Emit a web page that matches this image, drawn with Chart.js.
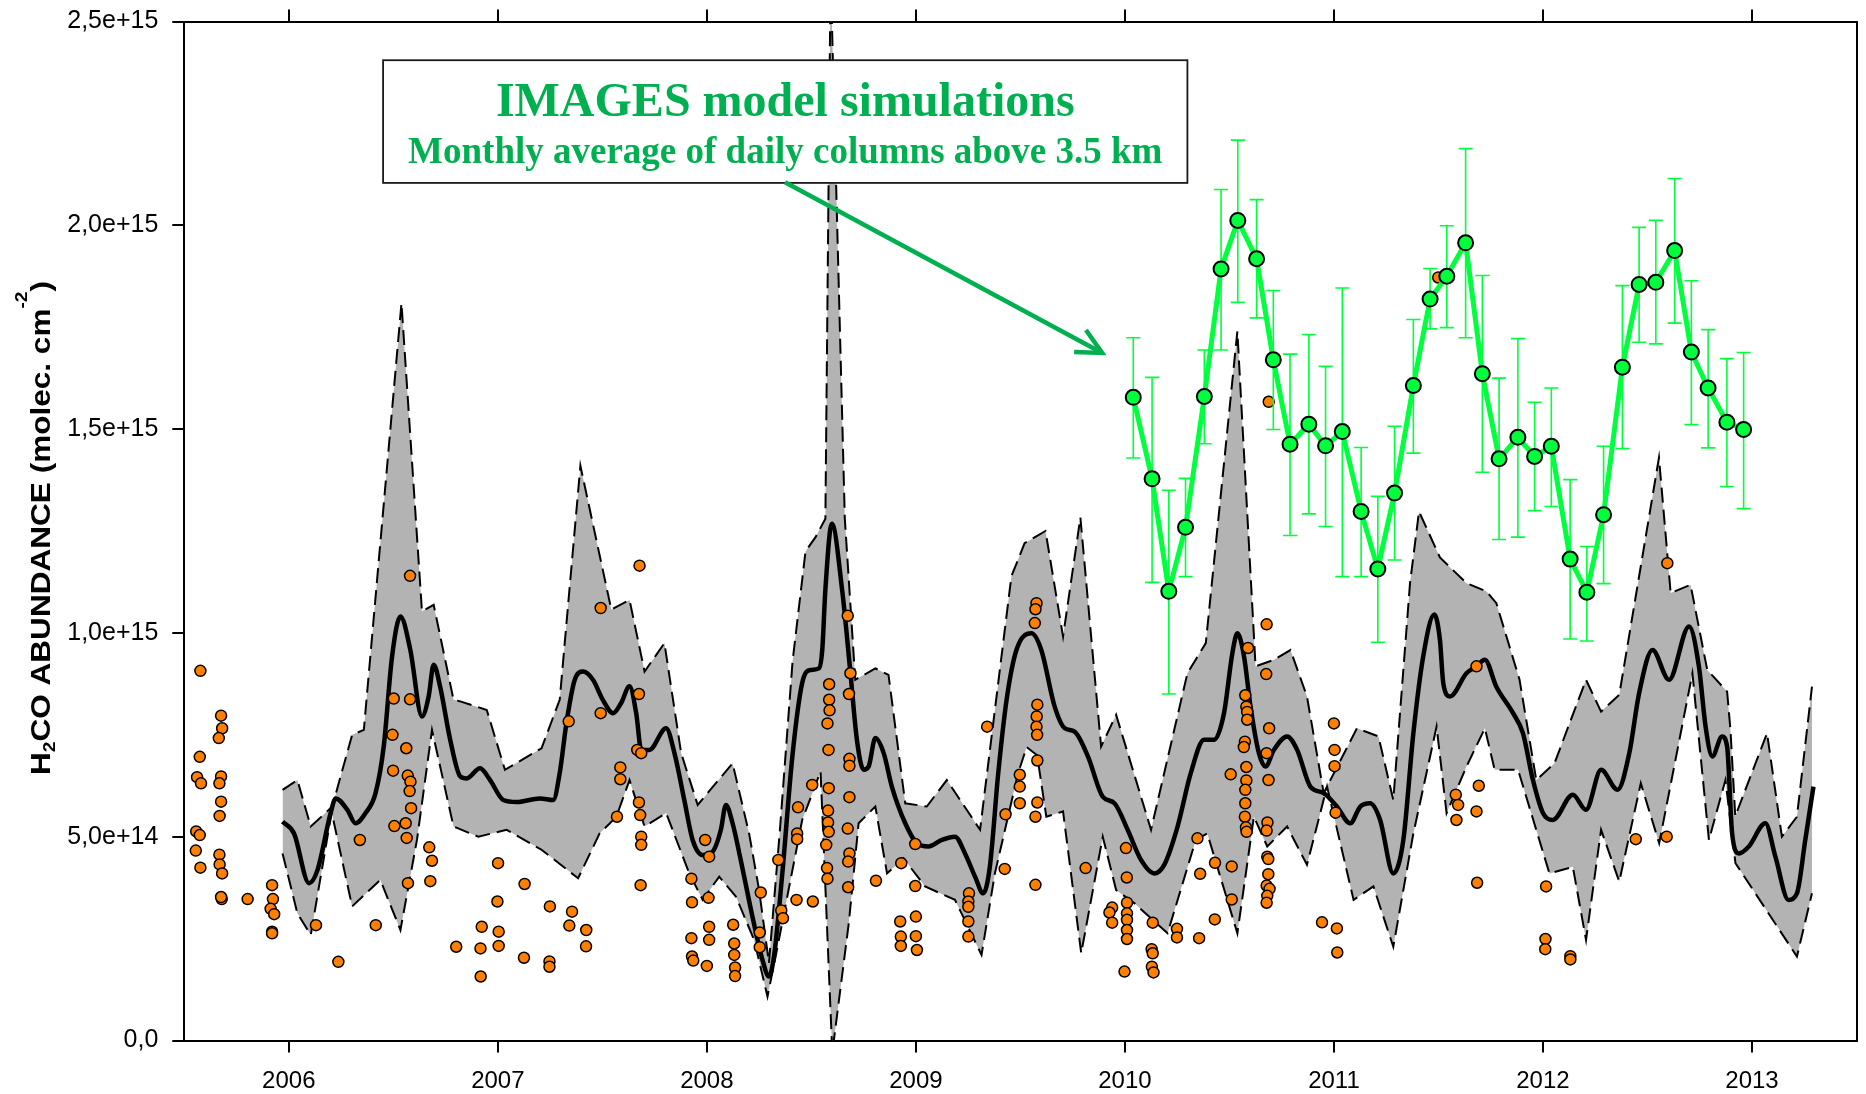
<!DOCTYPE html>
<html>
<head>
<meta charset="utf-8">
<title>H2CO abundance time series</title>
<script src="https://cdn.jsdelivr.net/npm/chart.js@4.4.1/dist/chart.umd.min.js"></script>
<style>
  html, body { margin: 0; padding: 0; background: #ffffff; }
  canvas { display: block; }
</style>
</head>
<body>
<canvas id="chart" width="1866" height="1094"></canvas>
<script>
// Values are H2CO columns in units of 1e15 molec. cm-2, x in decimal years.

const X_TICKS = [2006, 2007, 2008, 2009, 2010, 2011, 2012, 2013];
const Y_TICKS = [0, 0.5, 1.0, 1.5, 2.0, 2.5];
const Y_TICK_LABELS = ['0,0', '5,0e+14', '1,0e+15', '1,5e+15', '2,0e+15', '2,5e+15'];

// Individual observations (orange dots)
const OBS_YEARS = [
  2005.577, 2005.676, 2005.681, 2005.665, 2005.574, 2005.561, 2005.580, 2005.676, 2005.668, 2005.676,
  2005.669, 2005.557, 2005.574, 2005.555, 2005.577, 2005.668, 2005.669, 2005.681, 2005.679, 2005.676,
  2005.803, 2005.920, 2005.924, 2005.913, 2005.930, 2005.920, 2005.920, 2006.130, 2006.237, 2006.340,
  2006.416, 2006.502, 2006.580, 2006.580, 2006.496, 2006.562, 2006.499, 2006.569, 2006.582, 2006.578,
  2006.585, 2006.505, 2006.559, 2006.564, 2006.570, 2006.672, 2006.685, 2006.677, 2007.001, 2006.998,
  2006.923, 2007.004, 2006.801, 2006.917, 2007.004, 2006.918, 2007.128, 2007.125, 2007.249, 2007.247,
  2007.247, 2007.355, 2007.342, 2007.423, 2007.422, 2007.339, 2007.492, 2007.492, 2007.678, 2007.675,
  2007.667, 2007.686, 2007.586, 2007.586, 2007.570, 2007.675, 2007.681, 2007.686, 2007.686, 2007.683,
  2007.992, 2008.011, 2007.926, 2007.929, 2008.008, 2007.926, 2007.929, 2007.935, 2008.000, 2008.011,
  2008.011, 2008.126, 2008.131, 2008.131, 2008.135, 2008.135, 2008.258, 2008.253, 2008.253, 2008.342,
  2008.356, 2008.364, 2008.429, 2008.507, 2008.436, 2008.432, 2008.432, 2008.504, 2008.585, 2008.585,
  2008.587, 2008.577, 2008.582, 2008.583, 2008.580, 2008.580, 2008.583, 2008.571, 2008.575, 2008.577,
  2008.674, 2008.687, 2008.680, 2008.682, 2008.682, 2008.682, 2008.674, 2008.682, 2008.676, 2008.676,
  2008.809, 2008.925, 2008.928, 2008.928, 2009.000, 2009.000, 2009.005, 2008.997, 2008.997, 2008.930,
  2009.254, 2009.251, 2009.251, 2009.251, 2009.251, 2009.341, 2009.429, 2009.425, 2009.497, 2009.497,
  2009.497, 2009.577, 2009.572, 2009.569, 2009.581, 2009.578, 2009.577, 2009.580, 2009.581, 2009.581,
  2009.572, 2009.572, 2009.812, 2010.005, 2010.009, 2009.939, 2009.926, 2009.939, 2010.010, 2010.010,
  2010.010, 2010.010, 2010.010, 2009.998, 2010.133, 2010.128, 2010.133, 2010.129, 2010.137, 2010.249,
  2010.249, 2010.355, 2010.347, 2010.360, 2010.431, 2010.430, 2010.511, 2010.511, 2010.506, 2010.589,
  2010.678, 2010.676, 2010.576, 2010.581, 2010.585, 2010.585, 2010.574, 2010.569, 2010.581, 2010.581,
  2010.576, 2010.576, 2010.574, 2010.579, 2010.582, 2010.690, 2010.678, 2010.687, 2010.682, 2010.678,
  2010.681, 2010.686, 2010.686, 2010.678, 2010.692, 2010.681, 2010.678, 2011.000, 2011.003, 2011.003,
  2011.008, 2010.943, 2011.014, 2011.016, 2010.688, 2011.499, 2012.595, 2011.682, 2011.583, 2011.594,
  2011.693, 2011.682, 2011.586, 2011.685, 2012.015, 2012.012, 2012.011, 2012.131, 2012.131, 2012.444,
  2012.592
];
const OBS_VALUES = [
  0.907, 0.797, 0.766, 0.742, 0.696, 0.646, 0.631, 0.648, 0.631, 0.586,
  0.551, 0.513, 0.504, 0.466, 0.424, 0.456, 0.432, 0.410, 0.347, 0.352,
  0.347, 0.381, 0.347, 0.323, 0.310, 0.267, 0.263, 0.283, 0.193, 0.492,
  0.283, 0.839, 0.837, 1.140, 0.750, 0.717, 0.662, 0.650, 0.635, 0.612,
  0.570, 0.526, 0.533, 0.497, 0.386, 0.474, 0.441, 0.391, 0.435, 0.341,
  0.279, 0.267, 0.230, 0.226, 0.232, 0.157, 0.384, 0.203, 0.329, 0.194,
  0.181, 0.316, 0.282, 0.271, 0.231, 0.783, 1.061, 0.803, 1.165, 0.850,
  0.713, 0.705, 0.670, 0.641, 0.549, 0.584, 0.553, 0.500, 0.480, 0.381,
  0.492, 0.451, 0.397, 0.339, 0.350, 0.251, 0.206, 0.196, 0.183, 0.279,
  0.247, 0.284, 0.238, 0.210, 0.179, 0.158, 0.363, 0.265, 0.229, 0.443,
  0.319, 0.300, 0.345, 0.341, 0.572, 0.508, 0.494, 0.627, 0.874, 0.836,
  0.810, 0.778, 0.713, 0.619, 0.564, 0.535, 0.512, 0.480, 0.423, 0.397,
  1.042, 0.901, 0.850, 0.691, 0.674, 0.597, 0.520, 0.459, 0.439, 0.376,
  0.392, 0.292, 0.255, 0.232, 0.304, 0.256, 0.222, 0.482, 0.379, 0.435,
  0.361, 0.341, 0.328, 0.292, 0.255, 0.770, 0.555, 0.421, 0.652, 0.623,
  0.582, 1.073, 1.058, 1.024, 0.824, 0.795, 0.770, 0.750, 0.687, 0.584,
  0.549, 0.382, 0.423, 0.472, 0.400, 0.326, 0.314, 0.289, 0.338, 0.312,
  0.296, 0.271, 0.249, 0.169, 0.289, 0.224, 0.214, 0.181, 0.167, 0.274,
  0.253, 0.251, 0.496, 0.409, 0.436, 0.297, 0.427, 0.346, 0.653, 0.963,
  1.021, 0.899, 0.847, 0.819, 0.806, 0.787, 0.733, 0.720, 0.671, 0.638,
  0.615, 0.582, 0.549, 0.523, 0.512, 0.766, 0.705, 0.639, 0.535, 0.515,
  0.451, 0.445, 0.408, 0.380, 0.372, 0.355, 0.338, 0.778, 0.713, 0.673,
  0.559, 0.290, 0.275, 0.216, 1.567, 1.872, 1.171, 0.918, 0.603, 0.578,
  0.625, 0.562, 0.541, 0.387, 0.378, 0.249, 0.224, 0.207, 0.199, 0.494,
  0.500
];

// Smoothed observation curve (thick black line)
const MEAN_YEARS = [
  2005.970, 2006.025, 2006.097, 2006.137, 2006.200, 2006.224, 2006.280, 2006.319, 2006.367, 2006.415,
  2006.454, 2006.494, 2006.534, 2006.581, 2006.637, 2006.669, 2006.693, 2006.724, 2006.772, 2006.820,
  2006.851, 2006.915, 2006.963, 2007.026, 2007.090, 2007.201, 2007.265, 2007.296, 2007.328, 2007.368,
  2007.408, 2007.455, 2007.503, 2007.551, 2007.590, 2007.630, 2007.662, 2007.686, 2007.725, 2007.805,
  2007.845, 2007.892, 2007.932, 2007.980, 2008.027, 2008.067, 2008.091, 2008.123, 2008.162, 2008.218,
  2008.266, 2008.297, 2008.321, 2008.361, 2008.409, 2008.456, 2008.496, 2008.536, 2008.552, 2008.567,
  2008.598, 2008.647, 2008.687, 2008.718, 2008.750, 2008.774, 2008.806, 2008.846, 2008.885, 2008.949,
  2009.005, 2009.060, 2009.124, 2009.187, 2009.235, 2009.283, 2009.322, 2009.354, 2009.394, 2009.434,
  2009.481, 2009.553, 2009.600, 2009.664, 2009.712, 2009.759, 2009.823, 2009.894, 2009.950, 2010.013,
  2010.077, 2010.140, 2010.188, 2010.252, 2010.315, 2010.379, 2010.427, 2010.474, 2010.514, 2010.538,
  2010.570, 2010.601, 2010.641, 2010.673, 2010.713, 2010.776, 2010.824, 2010.887, 2010.951, 2011.014,
  2011.078, 2011.126, 2011.173, 2011.221, 2011.284, 2011.332, 2011.380, 2011.427, 2011.480, 2011.507,
  2011.523, 2011.555, 2011.634, 2011.682, 2011.722, 2011.777, 2011.857, 2011.904, 2011.952, 2012.000,
  2012.047, 2012.143, 2012.206, 2012.278, 2012.357, 2012.413, 2012.460, 2012.524, 2012.603, 2012.699,
  2012.746, 2012.778, 2012.810, 2012.857, 2012.881, 2012.905, 2012.937, 2012.985, 2013.064, 2013.112,
  2013.175, 2013.215, 2013.255, 2013.294
];
const MEAN_VALUES = [
  0.537, 0.508, 0.386, 0.418, 0.558, 0.594, 0.566, 0.533, 0.558, 0.607,
  0.721, 0.942, 1.040, 0.959, 0.795, 0.844, 0.922, 0.868, 0.738, 0.648,
  0.643, 0.668, 0.639, 0.590, 0.585, 0.594, 0.590, 0.656, 0.778, 0.885,
  0.905, 0.885, 0.835, 0.803, 0.828, 0.869, 0.803, 0.713, 0.713, 0.766,
  0.705, 0.590, 0.492, 0.455, 0.463, 0.517, 0.578, 0.533, 0.443, 0.304,
  0.198, 0.157, 0.206, 0.410, 0.697, 0.877, 0.909, 0.913, 0.958, 1.106,
  1.268, 1.106, 0.901, 0.737, 0.664, 0.672, 0.742, 0.705, 0.623, 0.533,
  0.484, 0.476, 0.492, 0.500, 0.459, 0.402, 0.361, 0.427, 0.656, 0.836,
  0.958, 0.999, 0.958, 0.819, 0.766, 0.758, 0.697, 0.598, 0.582, 0.517,
  0.443, 0.410, 0.431, 0.525, 0.656, 0.738, 0.738, 0.803, 0.950, 0.999,
  0.942, 0.819, 0.705, 0.672, 0.713, 0.746, 0.713, 0.623, 0.607, 0.574,
  0.533, 0.574, 0.582, 0.541, 0.410, 0.492, 0.754, 0.942, 1.045, 0.983,
  0.877, 0.844, 0.901, 0.918, 0.934, 0.868, 0.803, 0.754, 0.639, 0.558,
  0.541, 0.603, 0.566, 0.664, 0.615, 0.705, 0.852, 0.958, 0.885, 1.016,
  0.918, 0.770, 0.697, 0.746, 0.721, 0.508, 0.459, 0.476, 0.533, 0.451,
  0.345, 0.361, 0.492, 0.623
];

// Upper and lower envelope (dashed lines, grey band between)
const UPPER_YEARS = [
  2005.970, 2006.041, 2006.105, 2006.208, 2006.303, 2006.359, 2006.539, 2006.637, 2006.693, 2006.788,
  2006.820, 2006.947, 2007.034, 2007.209, 2007.296, 2007.395, 2007.543, 2007.630, 2007.702, 2007.797,
  2007.877, 2007.956, 2008.123, 2008.202, 2008.250, 2008.297, 2008.350, 2008.410, 2008.472, 2008.520,
  2008.567, 2008.592, 2008.660, 2008.710, 2008.806, 2008.869, 2008.949, 2009.052, 2009.148, 2009.307,
  2009.457, 2009.520, 2009.620, 2009.704, 2009.787, 2009.886, 2009.958, 2010.125, 2010.299, 2010.387,
  2010.538, 2010.625, 2010.713, 2010.792, 2010.871, 2010.951, 2011.110, 2011.213, 2011.284, 2011.364,
  2011.407, 2011.507, 2011.634, 2011.729, 2011.777, 2011.888, 2011.968, 2012.055, 2012.206, 2012.278,
  2012.365, 2012.555, 2012.611, 2012.706, 2012.786, 2012.881, 2012.897, 2012.920, 2013.072, 2013.143,
  2013.215, 2013.287
];
const UPPER_VALUES = [
  0.615, 0.639, 0.525, 0.574, 0.750, 0.762, 1.809, 1.053, 1.069, 0.836,
  0.832, 0.811, 0.664, 0.717, 0.836, 1.410, 1.057, 1.081, 0.905, 0.975,
  0.705, 0.578, 0.680, 0.508, 0.369, 0.190, 0.520, 0.930, 1.200, 1.235,
  1.280, 2.620, 1.280, 0.885, 0.913, 0.897, 0.582, 0.574, 0.639, 0.517,
  1.139, 1.220, 1.250, 0.991, 1.283, 0.721, 0.799, 0.517, 0.901, 0.975,
  1.740, 0.918, 0.934, 0.958, 0.844, 0.607, 0.766, 0.746, 0.590, 1.122,
  1.298, 1.185, 1.122, 1.102, 1.073, 0.885, 0.639, 0.680, 0.885, 0.807,
  0.848, 1.430, 1.098, 1.118, 0.909, 0.856, 0.762, 0.550, 0.754, 0.500,
  0.549, 0.868
];
const LOWER_YEARS = [
  2005.970, 2006.041, 2006.105, 2006.205, 2006.303, 2006.438, 2006.534, 2006.613, 2006.685, 2006.788,
  2006.907, 2007.042, 2007.209, 2007.384, 2007.487, 2007.567, 2007.630, 2007.702, 2007.805, 2007.916,
  2007.980, 2008.059, 2008.139, 2008.226, 2008.290, 2008.329, 2008.456, 2008.544, 2008.600, 2008.679,
  2008.726, 2008.806, 2008.862, 2008.941, 2009.044, 2009.187, 2009.314, 2009.378, 2009.489, 2009.530,
  2009.580, 2009.624, 2009.704, 2009.791, 2009.894, 2009.958, 2010.045, 2010.204, 2010.339, 2010.394,
  2010.538, 2010.617, 2010.681, 2010.776, 2010.871, 2010.967, 2011.094, 2011.189, 2011.284, 2011.380,
  2011.491, 2011.539, 2011.634, 2011.722, 2011.769, 2011.881, 2012.031, 2012.143, 2012.206, 2012.278,
  2012.365, 2012.468, 2012.556, 2012.715, 2012.794, 2012.873, 2012.921, 2013.215, 2013.287
];
const LOWER_VALUES = [
  0.459, 0.312, 0.259, 0.560, 0.329, 0.394, 0.271, 0.492, 0.762, 0.525,
  0.500, 0.517, 0.468, 0.398, 0.508, 0.549, 0.639, 0.525, 0.558, 0.410,
  0.345, 0.402, 0.353, 0.247, 0.108, 0.206, 0.541, 0.660, -0.030, 0.288,
  0.533, 0.574, 0.410, 0.447, 0.378, 0.345, 0.210, 0.410, 0.656, 0.720,
  0.700, 0.549, 0.562, 0.214, 0.500, 0.369, 0.337, 0.263, 0.492, 0.508,
  0.263, 0.549, 0.476, 0.525, 0.431, 0.623, 0.345, 0.378, 0.230, 0.508,
  0.770, 0.558, 0.672, 0.766, 0.664, 0.664, 0.410, 0.426, 0.247, 0.517,
  0.390, 0.631, 0.484, 0.901, 0.492, 0.639, 0.435, 0.206, 0.361
];

// IMAGES model: monthly means with their ranges (green)
const MODEL_MONTHS = [
  2010.04, 2010.13, 2010.21, 2010.29, 2010.38, 2010.46, 2010.54, 2010.63, 2010.71, 2010.79, 2010.88, 2010.96,
  2011.04, 2011.13, 2011.21, 2011.29, 2011.38, 2011.46, 2011.54, 2011.63, 2011.71, 2011.79, 2011.88, 2011.96,
  2012.04, 2012.13, 2012.21, 2012.29, 2012.38, 2012.46, 2012.54, 2012.63, 2012.71, 2012.79, 2012.88, 2012.96
];
const MODEL_VALUES = [
  1.578, 1.378, 1.102, 1.259, 1.580, 1.893, 2.012, 1.918, 1.670, 1.463, 1.512, 1.459,
  1.494, 1.298, 1.157, 1.343, 1.607, 1.819, 1.875, 1.957, 1.636, 1.427, 1.480, 1.433,
  1.458, 1.181, 1.100, 1.290, 1.652, 1.855, 1.860, 1.938, 1.689, 1.601, 1.517, 1.499
];
const MODEL_HIGH = [
  1.724, 1.627, 1.350, 1.379, 1.694, 2.088, 2.209, 2.063, 1.840, 1.684, 1.732, 1.654,
  1.846, 1.455, 1.335, 1.507, 1.769, 1.894, 1.999, 2.188, 1.877, 1.625, 1.722, 1.566,
  1.601, 1.376, 1.212, 1.458, 1.852, 1.995, 2.012, 2.115, 1.864, 1.744, 1.673, 1.688
];
const MODEL_LOW = [
  1.429, 1.124, 0.850, 1.138, 1.464, 1.694, 1.811, 1.773, 1.499, 1.239, 1.292, 1.261,
  1.138, 1.138, 0.977, 1.179, 1.441, 1.746, 1.749, 1.724, 1.394, 1.229, 1.235, 1.300,
  1.310, 0.985, 0.980, 1.121, 1.452, 1.713, 1.709, 1.760, 1.511, 1.454, 1.359, 1.305
];

// Callout: box corners and arrow ends in data coordinates
const NOTE_BOX = { x0: 2006.451, x1: 2010.299, yTop: 2.405, yBottom: 2.104 };
const NOTE_TITLE = 'IMAGES model simulations';
const NOTE_SUBTITLE = 'Monthly average of daily columns above 3.5 km';
const ARROW_FROM = [2008.374, 2.1055];
const ARROW_TO = [2009.891, 1.687];

const SANS = "'Liberation Sans', Arial, sans-serif";
const SERIF = "'Liberation Serif', 'Times New Roman', serif";
const NOTE_GREEN = '#00b050';
const MODEL_GREEN = '#00ff3c';
const BAND_GREY = '#b3b3b3';
const DOT_ORANGE = '#ff8000';

const pairs = (xs, ys) => xs.map((x, i) => ({ x: x, y: ys[i] }));
const MODEL_INDEX = 4;

const overlays = {
  id: 'overlays',
  beforeDatasetDraw(chart, args) {
    if (args.index !== MODEL_INDEX) return;
    const xs = chart.scales.x, ys = chart.scales.y, ctx = chart.ctx;
    ctx.save();
    ctx.strokeStyle = MODEL_GREEN;
    ctx.lineWidth = 1.6;
    ctx.beginPath();
    for (let i = 0; i < MODEL_MONTHS.length; i++) {
      const px = xs.getPixelForValue(MODEL_MONTHS[i]);
      const top = ys.getPixelForValue(MODEL_HIGH[i]);
      const bot = ys.getPixelForValue(MODEL_LOW[i]);
      ctx.moveTo(px, top); ctx.lineTo(px, bot);
      ctx.moveTo(px - 7, top); ctx.lineTo(px + 7, top);
      ctx.moveTo(px - 7, bot); ctx.lineTo(px + 7, bot);
    }
    ctx.stroke();
    ctx.restore();
  },
  afterDatasetsDraw(chart) {
    const xs = chart.scales.x, ys = chart.scales.y, ctx = chart.ctx;
    ctx.save();
    // callout box
    const bx0 = xs.getPixelForValue(NOTE_BOX.x0), bx1 = xs.getPixelForValue(NOTE_BOX.x1);
    const by0 = ys.getPixelForValue(NOTE_BOX.yTop), by1 = ys.getPixelForValue(NOTE_BOX.yBottom);
    ctx.fillStyle = '#ffffff';
    ctx.fillRect(bx0, by0, bx1 - bx0, by1 - by0);
    ctx.strokeStyle = '#1a1a1a';
    ctx.lineWidth = 1.8;
    ctx.strokeRect(bx0, by0, bx1 - bx0, by1 - by0);
    const cx = (bx0 + bx1) / 2;
    ctx.fillStyle = NOTE_GREEN;
    ctx.textAlign = 'center';
    ctx.textBaseline = 'alphabetic';
    ctx.font = 'bold 48px ' + SERIF;
    ctx.fillText(NOTE_TITLE, cx, by0 + 56);
    ctx.font = 'bold 37px ' + SERIF;
    ctx.fillText(NOTE_SUBTITLE, cx, by0 + 103);
    // arrow
    const ax0 = xs.getPixelForValue(ARROW_FROM[0]), ay0 = ys.getPixelForValue(ARROW_FROM[1]);
    const ax1 = xs.getPixelForValue(ARROW_TO[0]), ay1 = ys.getPixelForValue(ARROW_TO[1]);
    const ang = Math.atan2(ay1 - ay0, ax1 - ax0);
    ctx.strokeStyle = NOTE_GREEN;
    ctx.lineWidth = 4.5;
    ctx.beginPath();
    ctx.moveTo(ax0, ay0);
    ctx.lineTo(ax1 - 2 * Math.cos(ang), ay1 - 2 * Math.sin(ang));
    ctx.stroke();
    const head = 28, spread = 0.46;
    ctx.lineJoin = 'miter';
    ctx.beginPath();
    ctx.moveTo(ax1 + head * Math.cos(ang + Math.PI - spread), ay1 + head * Math.sin(ang + Math.PI - spread));
    ctx.lineTo(ax1, ay1);
    ctx.lineTo(ax1 + head * Math.cos(ang + Math.PI + spread), ay1 + head * Math.sin(ang + Math.PI + spread));
    ctx.stroke();
    ctx.restore();
  },
  afterDraw(chart) {
    // rotated axis title with subscript and superscript
    const ctx = chart.ctx;
    const mainFont = 'bold 28px ' + SANS;
    const smallFont = 'bold 17px ' + SANS;
    const parts = [
      { t: 'H', f: mainFont, dy: 0 },
      { t: '2', f: smallFont, dy: 5 },
      { t: 'CO ABUNDANCE (molec. cm', f: mainFont, dy: 0 },
      { t: '-2', f: smallFont, dy: -23 },
      { t: ')', f: mainFont, dy: 0 }
    ];
    ctx.save();
    let total = 0;
    parts.forEach(p => { ctx.font = p.f; p.w = ctx.measureText(p.t).width; total += p.w; });
    const span = 494;
    ctx.translate(49.5, 775);
    ctx.rotate(-Math.PI / 2);
    ctx.scale(span / total, 1);
    ctx.fillStyle = '#000000';
    ctx.textAlign = 'left';
    ctx.textBaseline = 'alphabetic';
    let pos = 0;
    parts.forEach(p => { ctx.font = p.f; ctx.fillText(p.t, pos, p.dy); pos += p.w; });
    ctx.restore();
  }
};

const yearTicks = scale => { scale.ticks = X_TICKS.map(v => ({ value: v })); };
const noOverhang = s => { s.paddingTop = 0; s.paddingBottom = 0; s.paddingLeft = 0; s.paddingRight = 0; };
const frameGrid = { drawOnChartArea: false, drawTicks: true, tickLength: 12, color: '#000000', lineWidth: 2 };
const frameBorder = { display: true, color: '#000000', width: 2 };

new Chart(document.getElementById('chart'), {
  type: 'line',
  data: {
    datasets: [
      {
        label: 'upper', data: pairs(UPPER_YEARS, UPPER_VALUES),
        borderColor: '#000000', borderWidth: 2, borderDash: [15, 7],
        backgroundColor: BAND_GREY, fill: '+1', pointRadius: 0, tension: 0, order: 6
      },
      {
        label: 'lower', data: pairs(LOWER_YEARS, LOWER_VALUES),
        borderColor: '#000000', borderWidth: 2, borderDash: [15, 7],
        fill: false, pointRadius: 0, tension: 0, order: 5
      },
      {
        label: 'smoothed', data: pairs(MEAN_YEARS, MEAN_VALUES),
        borderColor: '#000000', borderWidth: 4.5, fill: false, pointRadius: 0,
        cubicInterpolationMode: 'monotone', order: 4
      },
      {
        label: 'observations', data: pairs(OBS_YEARS, OBS_VALUES),
        showLine: false, pointRadius: 5.5, pointBackgroundColor: DOT_ORANGE,
        pointBorderColor: '#000000', pointBorderWidth: 1.5, order: 3
      },
      {
        label: 'IMAGES', data: pairs(MODEL_MONTHS, MODEL_VALUES),
        borderColor: MODEL_GREEN, borderWidth: 5, fill: false, tension: 0,
        pointRadius: 7.5, pointBackgroundColor: MODEL_GREEN,
        pointBorderColor: '#000000', pointBorderWidth: 2, order: 1
      }
    ]
  },
  options: {
    responsive: false,
    animation: false,
    events: [],
    devicePixelRatio: 1,
    layout: { padding: { left: 0, right: 4.5, top: 0, bottom: 0 } },
    plugins: { legend: { display: false }, tooltip: { enabled: false } },
    scales: {
      x: {
        type: 'linear', position: 'bottom', min: 2005.5, max: 2013.5,
        afterBuildTicks: yearTicks,
        afterFit: s => { s.height = 53.5; noOverhang(s); },
        grid: frameGrid, border: frameBorder,
        ticks: {
          color: '#000000', font: { family: SANS, size: 24 }, padding: 14,
          maxRotation: 0, autoSkip: false, callback: v => String(v)
        }
      },
      x2: {
        type: 'linear', position: 'top', min: 2005.5, max: 2013.5,
        afterBuildTicks: yearTicks,
        afterFit: s => { s.height = 21.5; noOverhang(s); },
        grid: frameGrid, border: frameBorder,
        ticks: { display: false }
      },
      y: {
        type: 'linear', position: 'left', min: 0, max: 2.5,
        afterBuildTicks: s => { s.ticks = Y_TICKS.map(v => ({ value: v })); },
        afterFit: s => { s.width = 184.3; noOverhang(s); },
        grid: frameGrid, border: frameBorder,
        ticks: {
          color: '#000000', font: { family: SANS, size: 25 }, padding: 14,
          callback: v => Y_TICK_LABELS[Y_TICKS.indexOf(v)]
        }
      },
      y2: {
        type: 'linear', position: 'right', min: 0, max: 2.5,
        afterFit: s => { s.width = 0; noOverhang(s); },
        grid: { drawOnChartArea: false, drawTicks: false },
        border: frameBorder,
        ticks: { display: false }
      }
    }
  },
  plugins: [overlays]
});
</script>
</body>
</html>
